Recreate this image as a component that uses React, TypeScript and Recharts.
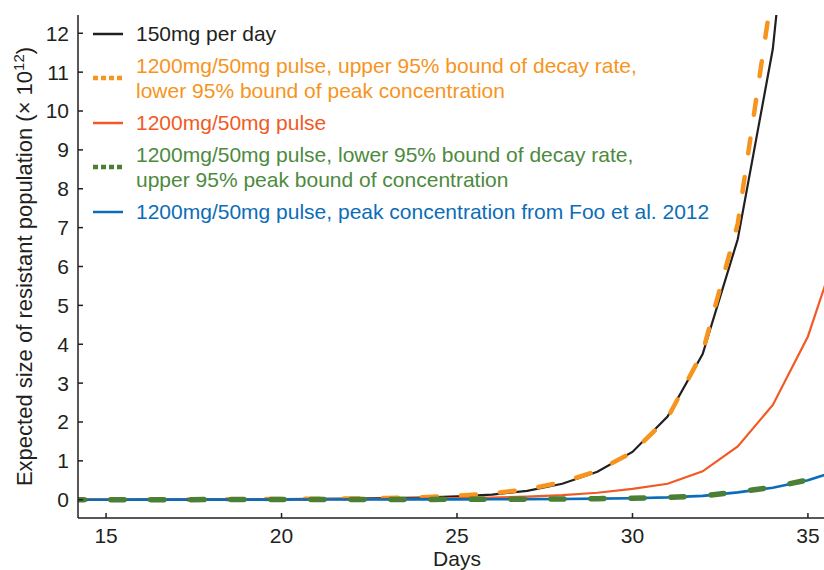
import React from "react";
import { Legend, Line, LineChart, XAxis, YAxis } from "recharts";

const FONT = "'Liberation Sans', Arial, Helvetica, sans-serif";
const INK = "#231f20";

// days on the x axis
const days = [14, 15, 16, 17, 18, 19, 20, 21, 22, 23, 24, 25, 26, 27, 28, 29, 30, 31, 32, 33, 34, 35, 36];

// expected resistant population (x 10^12)
const daily150 = [0.002, 0.003, 0.004, 0.006, 0.009, 0.013, 0.018, 0.024, 0.032, 0.04, 0.055, 0.085, 0.13, 0.23, 0.41, 0.72, 1.23, 2.14, 3.75, 6.7, 11.6, 20.3, 35.5];
const pulseUpperDecay = [0.002, 0.003, 0.004, 0.006, 0.009, 0.013, 0.018, 0.024, 0.032, 0.045, 0.065, 0.1, 0.16, 0.27, 0.45, 0.74, 1.22, 2.1, 3.8, 7.1, 13.2, 24.5, 45];
const pulse = [0.001, 0.002, 0.003, 0.004, 0.006, 0.008, 0.01, 0.013, 0.017, 0.022, 0.03, 0.04, 0.055, 0.08, 0.12, 0.18, 0.28, 0.41, 0.73, 1.37, 2.44, 4.2, 6.9];
const pulseLowerDecay = [0.001, 0.001, 0.002, 0.002, 0.003, 0.003, 0.004, 0.005, 0.006, 0.007, 0.008, 0.01, 0.012, 0.015, 0.02, 0.028, 0.04, 0.06, 0.1, 0.2, 0.32, 0.51, 0.8];
const pulseFoo = [0.001, 0.001, 0.002, 0.002, 0.003, 0.003, 0.004, 0.005, 0.006, 0.007, 0.008, 0.01, 0.012, 0.015, 0.02, 0.028, 0.04, 0.06, 0.1, 0.19, 0.31, 0.5, 0.79];

const xTicks = [15, 20, 25, 30, 35];
const yTicks = [0, 1, 2, 3, 4, 5, 6, 7, 8, 9, 10, 11, 12];

const data = days.map((d, i) => ({
  day: d,
  daily150: daily150[i],
  pulseUpperDecay: pulseUpperDecay[i],
  pulse: pulse[i],
  pulseLowerDecay: pulseLowerDecay[i],
  pulseFoo: pulseFoo[i],
}));

const legendItems = [
  { lines: ["150mg per day"], color: INK, text: INK, dash: undefined, width: 2.5 },
  {
    lines: ["1200mg/50mg pulse, upper 95% bound of decay rate,", "lower 95% bound of peak concentration"],
    color: "#f7941d",
    text: "#f7941d",
    dash: "5 3",
    width: 4.5,
  },
  { lines: ["1200mg/50mg pulse"], color: "#f15a24", text: "#f15a24", dash: undefined, width: 2.5 },
  {
    lines: ["1200mg/50mg pulse, lower 95% bound of decay rate,", "upper 95% peak bound of concentration"],
    color: "#4a7f35",
    text: "#4d8a3e",
    dash: "5 3",
    width: 4.5,
  },
  {
    lines: ["1200mg/50mg pulse, peak concentration from Foo et al. 2012"],
    color: "#0b6db7",
    text: "#0b6db7",
    dash: undefined,
    width: 2.5,
  },
];

const renderLegend = () => (
  <div style={{ fontFamily: FONT, fontSize: 21, lineHeight: "25px" }}>
    {legendItems.map((item) => (
      <div key={item.lines[0]} style={{ display: "flex", alignItems: "center", marginBottom: 7 }}>
        <svg width={30} height={8} style={{ marginRight: 13, flex: "none" }}>
          <line x1={0} x2={30} y1={4} y2={4} stroke={item.color} strokeWidth={item.width} strokeDasharray={item.dash} />
        </svg>
        <div style={{ color: item.text, whiteSpace: "nowrap" }}>
          {item.lines.map((l) => (
            <div key={l}>{l}</div>
          ))}
        </div>
      </div>
    ))}
  </div>
);

const YLabel = (props: any) => {
  const vb = props.viewBox || { x: 0, y: 15, width: 78, height: 503 };
  const cx = 32;
  const cy = vb.y + vb.height / 2;
  return (
    <text
      x={cx}
      y={cy}
      transform={`rotate(-90 ${cx} ${cy})`}
      textAnchor="middle"
      fill={INK}
      fontSize={22}
      fontFamily={FONT}
    >
      Expected size of resistant population (× 10
      <tspan dy={-8} fontSize={15}>
        12
      </tspan>
      <tspan dy={8}>)</tspan>
    </text>
  );
};

const tickStyle = { fontSize: 21, fill: INK, fontFamily: FONT };

export default function App() {
  return (
    <div style={{ position: "absolute", left: 0, top: 0, width: 824, height: 570, overflow: "hidden", background: "#fff" }}>
      <LineChart
        width={840}
        height={570}
        data={data}
        margin={{ top: 15, right: 4, left: 0, bottom: 0 }}
        style={{ fontFamily: FONT }}
      >
        <XAxis
          dataKey="day"
          type="number"
          domain={[14.2, 35.8]}
          allowDataOverflow
          ticks={xTicks}
          height={52}
          tickSize={-5}
          tickMargin={15}
          tick={tickStyle}
          stroke={INK}
          strokeWidth={1.5}
          label={{ value: "Days", position: "insideBottom", offset: 4, fontSize: 21, fill: INK, fontFamily: FONT }}
        />
        <XAxis
          xAxisId="top"
          dataKey="day"
          type="number"
          orientation="top"
          domain={[14.2, 35.8]}
          allowDataOverflow
          height={0}
          tick={false}
          tickLine={false}
          stroke={INK}
          strokeWidth={1.5}
        />
        <YAxis
          type="number"
          domain={[-0.47, 12.47]}
          allowDataOverflow
          ticks={yTicks}
          width={78}
          tickSize={-5}
          tickMargin={14}
          tick={tickStyle}
          stroke={INK}
          strokeWidth={1.5}
          label={<YLabel />}
        />
        <Legend
          content={renderLegend}
          layout="vertical"
          align="center"
          verticalAlign="middle"
          wrapperStyle={{ left: 93, top: 21, width: "auto", height: "auto" }}
        />
        <Line dataKey="daily150" stroke={INK} strokeWidth={2.2} dot={false} activeDot={false} isAnimationActive={false} />
        <Line
          dataKey="pulseUpperDecay"
          stroke="#f7941d"
          strokeWidth={4.5}
          strokeDasharray="15 24"
          strokeLinecap="round"
          dot={false}
          activeDot={false}
          isAnimationActive={false}
        />
        <Line dataKey="pulse" stroke="#f15a24" strokeWidth={2.2} dot={false} activeDot={false} isAnimationActive={false} />
        <Line dataKey="pulseFoo" stroke="#0b6db7" strokeWidth={2.6} dot={false} activeDot={false} isAnimationActive={false} />
        <Line
          dataKey="pulseLowerDecay"
          stroke="#4a7f35"
          strokeWidth={5.5}
          strokeDasharray="13 27"
          strokeLinecap="round"
          dot={false}
          activeDot={false}
          isAnimationActive={false}
        />
      </LineChart>
    </div>
  );
}
